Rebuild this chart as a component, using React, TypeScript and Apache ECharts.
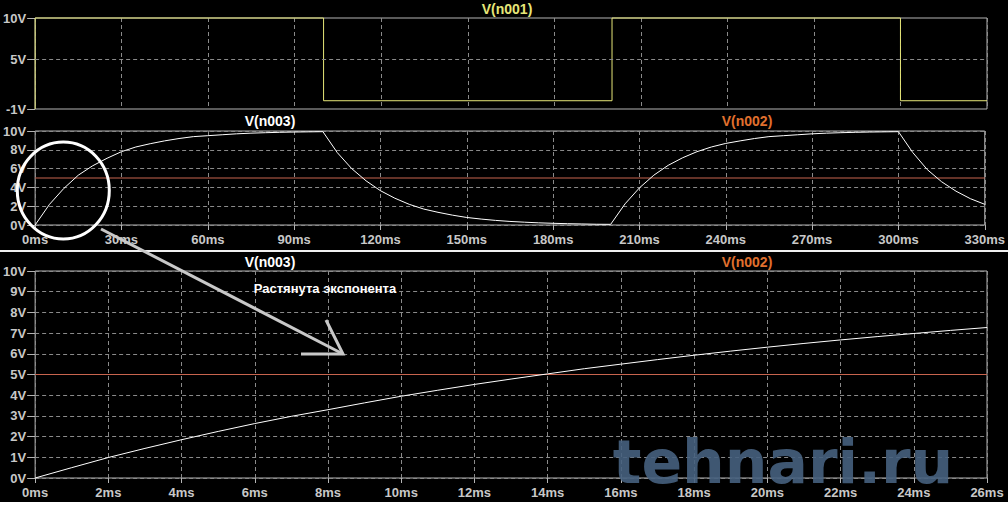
import React, { useEffect, useRef } from "react";
import * as echarts from "echarts";

// Panel 1: V(n001) pulse source (time ms, volts)
const pulseTimes = [0, 0, 100, 100, 200, 200, 300, 300, 330];
const pulseValues = [-1, 10, 10, 0, 0, 10, 10, 0, 0];

// Panel 2: V(n003) over 0..330 ms
const fullTimes = [
  0, 5, 10, 15, 20, 25, 30, 35, 40, 45, 50, 55, 60, 65, 70, 75, 80, 85, 90, 95, 100,
  105, 110, 115, 120, 125, 130, 135, 140, 145, 150, 155, 160, 165, 170, 175, 180, 185, 190, 195, 200,
  205, 210, 215, 220, 225, 230, 235, 240, 245, 250, 255, 260, 265, 270, 275, 280, 285, 290, 295, 300,
  305, 310, 315, 320, 325, 330,
];
const fullValues = [
  0, 2.2, 3.9, 5.3, 6.3, 7.1, 7.8, 8.3, 8.65, 8.95, 9.2, 9.4, 9.5, 9.6, 9.7, 9.77, 9.82, 9.86, 9.89, 9.91, 9.93,
  7.7, 6.0, 4.7, 3.65, 2.85, 2.2, 1.7, 1.35, 1.05, 0.8, 0.63, 0.49, 0.38, 0.3, 0.23, 0.18, 0.14, 0.11, 0.08, 0.07,
  2.25, 3.95, 5.3, 6.35, 7.15, 7.8, 8.3, 8.68, 8.95, 9.2, 9.4, 9.5, 9.6, 9.7, 9.77, 9.82, 9.86, 9.89, 9.91, 9.93,
  7.7, 5.9, 4.6, 3.6, 2.8, 2.2,
];

// Panel 3: V(n003) zoomed 0..26 ms
const zoomTimes = [0, 1, 2, 3, 4, 5, 6, 7, 8, 9, 10, 11, 12, 13, 14, 15, 16, 17, 18, 19, 20, 21, 22, 23, 24, 25, 26];
const zoomValues = [
  0, 0.5, 0.99, 1.43, 1.85, 2.25, 2.63, 2.98, 3.3, 3.63, 3.95, 4.24, 4.52, 4.78, 5.03, 5.28, 5.5, 5.72, 5.93, 6.13,
  6.32, 6.5, 6.67, 6.83, 6.98, 7.13, 7.27,
];

// Reference level V(n002)
const refLevel = 5;

const topYTicks = [-1, 5, 10];
const seriesNames = ["V(n001)", "V(n003)", "V(n002)"];
const annotation = "Растянута экспонента";
const watermark = "tehnari.ru";

const FRAME = "#b4b4b4";
const GRID = "#8a8a8a";
const LABEL = "#c8c8c8";
const FONT = "Liberation Sans";
const YELLOW = "#e6e678";
const ORANGE = "#e0702e";
const REDLINE = "#c8644e";

const pairs = (xs: number[], ys: number[]) => xs.map((x, i) => [x, ys[i]]);

export default function App() {
  const ref = useRef<HTMLDivElement>(null);
  useEffect(() => {
    if (!ref.current) return;
    const chart = echarts.init(ref.current, null, { renderer: "svg" });
    const labelStyle = { color: LABEL, fontFamily: FONT, fontWeight: "bold" as const, fontSize: 13 };
    const split = { show: true, lineStyle: { color: GRID, type: [4, 3] as any, width: 1 } };
    const tick = (len: number) => ({ show: true, length: len, lineStyle: { color: FRAME, width: 1 } });
    const gridBase = { show: true, borderColor: FRAME, borderWidth: 1, backgroundColor: "transparent", left: 32, width: 955, containLabel: false };
    const titleText = (x: number, y: number, text: string, fill: string, size = 14) => ({
      type: "text", x, y, z: 10,
      style: { text, fill, fontFamily: FONT, fontWeight: "bold", fontSize: size, align: "center", verticalAlign: "middle" },
    });
    const option: any = {
      animation: false,
      backgroundColor: "#000",
      grid: [
        { ...gridBase, top: 18, height: 91 },
        { ...gridBase, top: 131, height: 94 },
        { ...gridBase, top: 271, height: 207 },
      ],
      xAxis: [
        { type: "value", gridIndex: 0, min: 0, max: 330, interval: 30, axisLine: { show: false }, axisTick: { show: false }, axisLabel: { show: false }, splitLine: split },
        { type: "value", gridIndex: 1, min: 0, max: 330, interval: 30, axisLine: { show: false }, axisTick: tick(5), axisLabel: { ...labelStyle, margin: 8, formatter: (v: number) => `${v}ms` }, splitLine: split },
        { type: "value", gridIndex: 2, min: 0, max: 26, interval: 2, axisLine: { show: false }, axisTick: tick(5), axisLabel: { ...labelStyle, margin: 8, formatter: (v: number) => `${v}ms` }, splitLine: split },
      ],
      yAxis: [
        { type: "value", gridIndex: 0, min: -1, max: 10, axisLine: { show: false }, splitLine: { show: false },
          axisTick: { ...tick(8), customValues: topYTicks },
          axisLabel: { ...labelStyle, margin: 9, customValues: topYTicks, formatter: (v: number) => `${v}V` } },
        { type: "value", gridIndex: 1, min: 0, max: 10, interval: 2, axisLine: { show: false }, axisTick: tick(8), axisLabel: { ...labelStyle, margin: 9, formatter: (v: number) => `${v}V` }, splitLine: split },
        { type: "value", gridIndex: 2, min: 0, max: 10, interval: 1, axisLine: { show: false }, axisTick: tick(8), axisLabel: { ...labelStyle, margin: 9, formatter: (v: number) => `${v}V` }, splitLine: split },
      ],
      series: [
        {
          name: seriesNames[0], type: "line", xAxisIndex: 0, yAxisIndex: 0, data: pairs(pulseTimes, pulseValues),
          showSymbol: false, symbol: "none", clip: false, lineStyle: { color: YELLOW, width: 1 },
          markLine: { silent: true, symbol: ["none", "none"], label: { show: false }, lineStyle: { color: GRID, type: [4, 3], width: 1 }, data: [{ yAxis: 5 }] },
          z: 3,
        },
        { name: seriesNames[2] + "a", type: "line", xAxisIndex: 1, yAxisIndex: 1, data: [[0, refLevel], [330, refLevel]], symbol: "none", clip: false, lineStyle: { color: REDLINE, width: 1 }, z: 2 },
        { name: seriesNames[1] + "a", type: "line", xAxisIndex: 1, yAxisIndex: 1, data: pairs(fullTimes, fullValues), symbol: "none", clip: false, lineStyle: { color: "#ffffff", width: 1 }, z: 3 },
        { name: seriesNames[2] + "b", type: "line", xAxisIndex: 2, yAxisIndex: 2, data: [[0, refLevel], [26, refLevel]], symbol: "none", clip: false, lineStyle: { color: REDLINE, width: 1 }, z: 2 },
        { name: seriesNames[1] + "b", type: "line", xAxisIndex: 2, yAxisIndex: 2, data: pairs(zoomTimes, zoomValues), symbol: "none", clip: false, lineStyle: { color: "#ffffff", width: 1 }, z: 3 },
      ],
      graphic: [
        { type: "rect", shape: { x: 0, y: 250, width: 1008, height: 2 }, style: { fill: "#f0f0f0" }, z: 10 },
        { type: "rect", shape: { x: 0, y: 502, width: 1008, height: 18 }, style: { fill: "#ffffff" }, z: 10 },
        titleText(507, 9, seriesNames[0], YELLOW),
        titleText(270, 121, seriesNames[1], "#ffffff"),
        titleText(747, 121, seriesNames[2], ORANGE),
        titleText(270, 261.5, seriesNames[1], "#ffffff"),
        titleText(747, 261.5, seriesNames[2], ORANGE),
        titleText(325, 288.5, annotation, "#ffffff", 13),
        { type: "ellipse", shape: { cx: 63.3, cy: 190.5, rx: 46, ry: 48.5 }, style: { fill: "none", stroke: "#ffffff", lineWidth: 3 }, z: 10 },
        { type: "line", shape: { x1: 101, y1: 229, x2: 343, y2: 354 }, style: { stroke: "#c8c8c8", lineWidth: 3 }, z: 10 },
        { type: "polyline", shape: { points: [[326, 320], [343, 354], [301, 354]] }, style: { fill: "none", stroke: "#c8c8c8", lineWidth: 3 }, z: 10 },
        {
          type: "text", x: 783, y: 462, z: 11,
          style: {
            text: watermark, fontFamily: "DejaVu Sans", fontWeight: "bold", fontSize: 60,
            align: "center", verticalAlign: "middle", fill: "#46607e", opacity: 0.9,
          },
        },
      ],
    };
    chart.setOption(option);
    return () => chart.dispose();
  }, []);
  return <div ref={ref} style={{ position: "absolute", left: 0, top: 0, width: 1008, height: 520 }} />;
}
